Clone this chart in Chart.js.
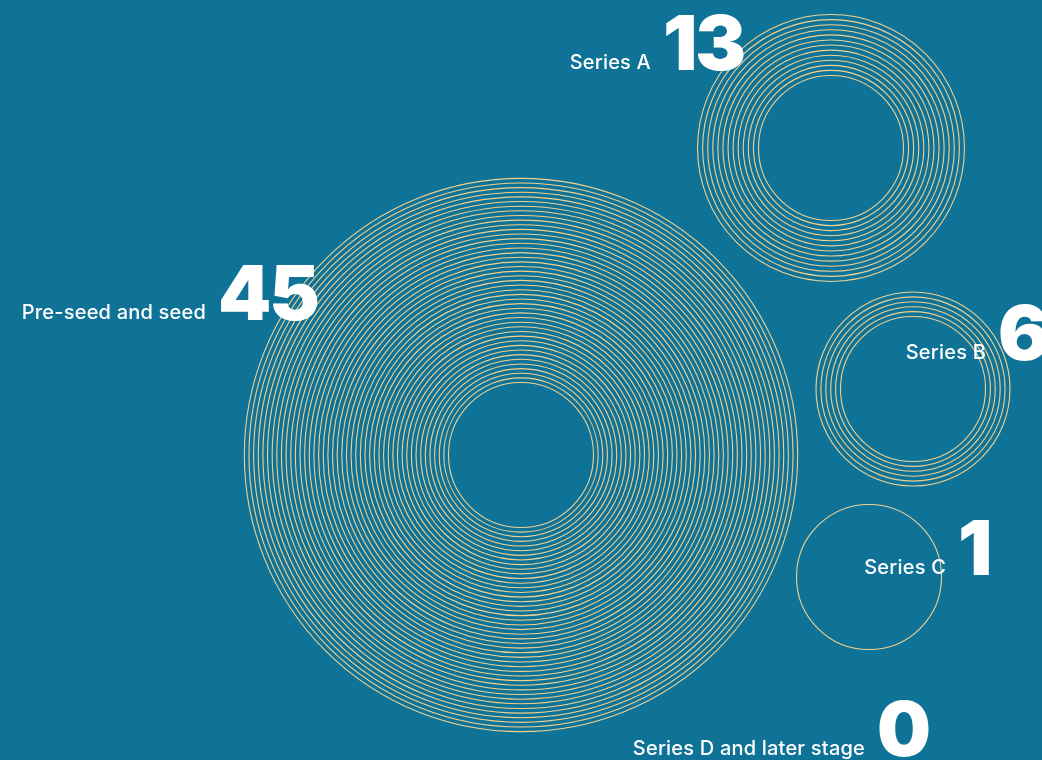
<!DOCTYPE html>
<html><head><meta charset="utf-8">
<script src="https://cdn.jsdelivr.net/npm/chart.js@4.4.1/dist/chart.umd.min.js"></script>
<style>
html,body{margin:0;padding:0;background:#0f7398;overflow:hidden}
#wrap{width:1042px;height:760px;position:relative}
</style>
</head><body>
<div id="wrap"><canvas id="c" width="1042" height="760"></canvas></div>
<script>
// ---- data ----
const categories = ["Pre-seed and seed", "Series A", "Series B", "Series C", "Series D and later stage"];
const values = [45, 13, 6, 1, 0];

// ---- layout (pixel-space coordinates of the canvas) ----
const centerX = [521, 831, 913, 869, 0];
const centerY = [455, 148, 389, 577, 0];
const ringGap = [4.64, 5.08, 4.9, 0, 0];
const innerRadius = 72.5;
const labelX = [218, 663, 998, 958, 877];
const labelY = [320, 70, 360, 575, 756];

const BG = '#0f7398';
const RING = '#f0d18e';

const datasets = categories.map((cat, k) => {
  const pts = [];
  for (let i = 0; i < values[k]; i++) {
    pts.push({ x: centerX[k], y: centerY[k], r: innerRadius + i * ringGap[k] });
  }
  return {
    label: cat,
    data: pts,
    backgroundColor: 'rgba(0,0,0,0)',
    borderColor: RING,
    borderWidth: 1.1,
    hoverBorderWidth: 1.1,
    clip: false
  };
});

const labelPlugin = {
  id: 'valueLabels',
  afterDatasetsDraw(chart) {
    const { ctx, scales } = chart;
    ctx.save();
    ctx.textBaseline = 'alphabetic';
    categories.forEach((cat, k) => {
      const x = scales.x.getPixelForValue(labelX[k]);
      const y = scales.y.getPixelForValue(labelY[k]);
      ctx.fillStyle = '#ffffff';
      ctx.letterSpacing = '-2px';
      ctx.font = '900 76px "Inter", "Lato", sans-serif';
      ctx.textAlign = 'left';
      ctx.fillText(String(values[k]), x, y);
      ctx.letterSpacing = '0.2px';
      ctx.font = '500 20px "Inter", "Lato", sans-serif';
      ctx.textAlign = 'right';
      ctx.fillText(cat, x - 12, y - 1);
    });
    ctx.restore();
  }
};

const bgPlugin = {
  id: 'bg',
  beforeDraw(chart) {
    const { ctx, width, height } = chart;
    ctx.save();
    ctx.fillStyle = BG;
    ctx.fillRect(0, 0, width, height);
    ctx.restore();
  }
};

new Chart(document.getElementById('c'), {
  type: 'bubble',
  data: { datasets },
  options: {
    responsive: false,
    animation: false,
    events: [],
    layout: { padding: 0, autoPadding: false },
    plugins: { legend: { display: false }, tooltip: { enabled: false } },
    scales: {
      x: { type: 'linear', min: 0, max: 1042, display: false },
      y: { type: 'linear', min: 0, max: 760, reverse: true, display: false }
    }
  },
  plugins: [bgPlugin, labelPlugin]
});
</script>
</body></html>
